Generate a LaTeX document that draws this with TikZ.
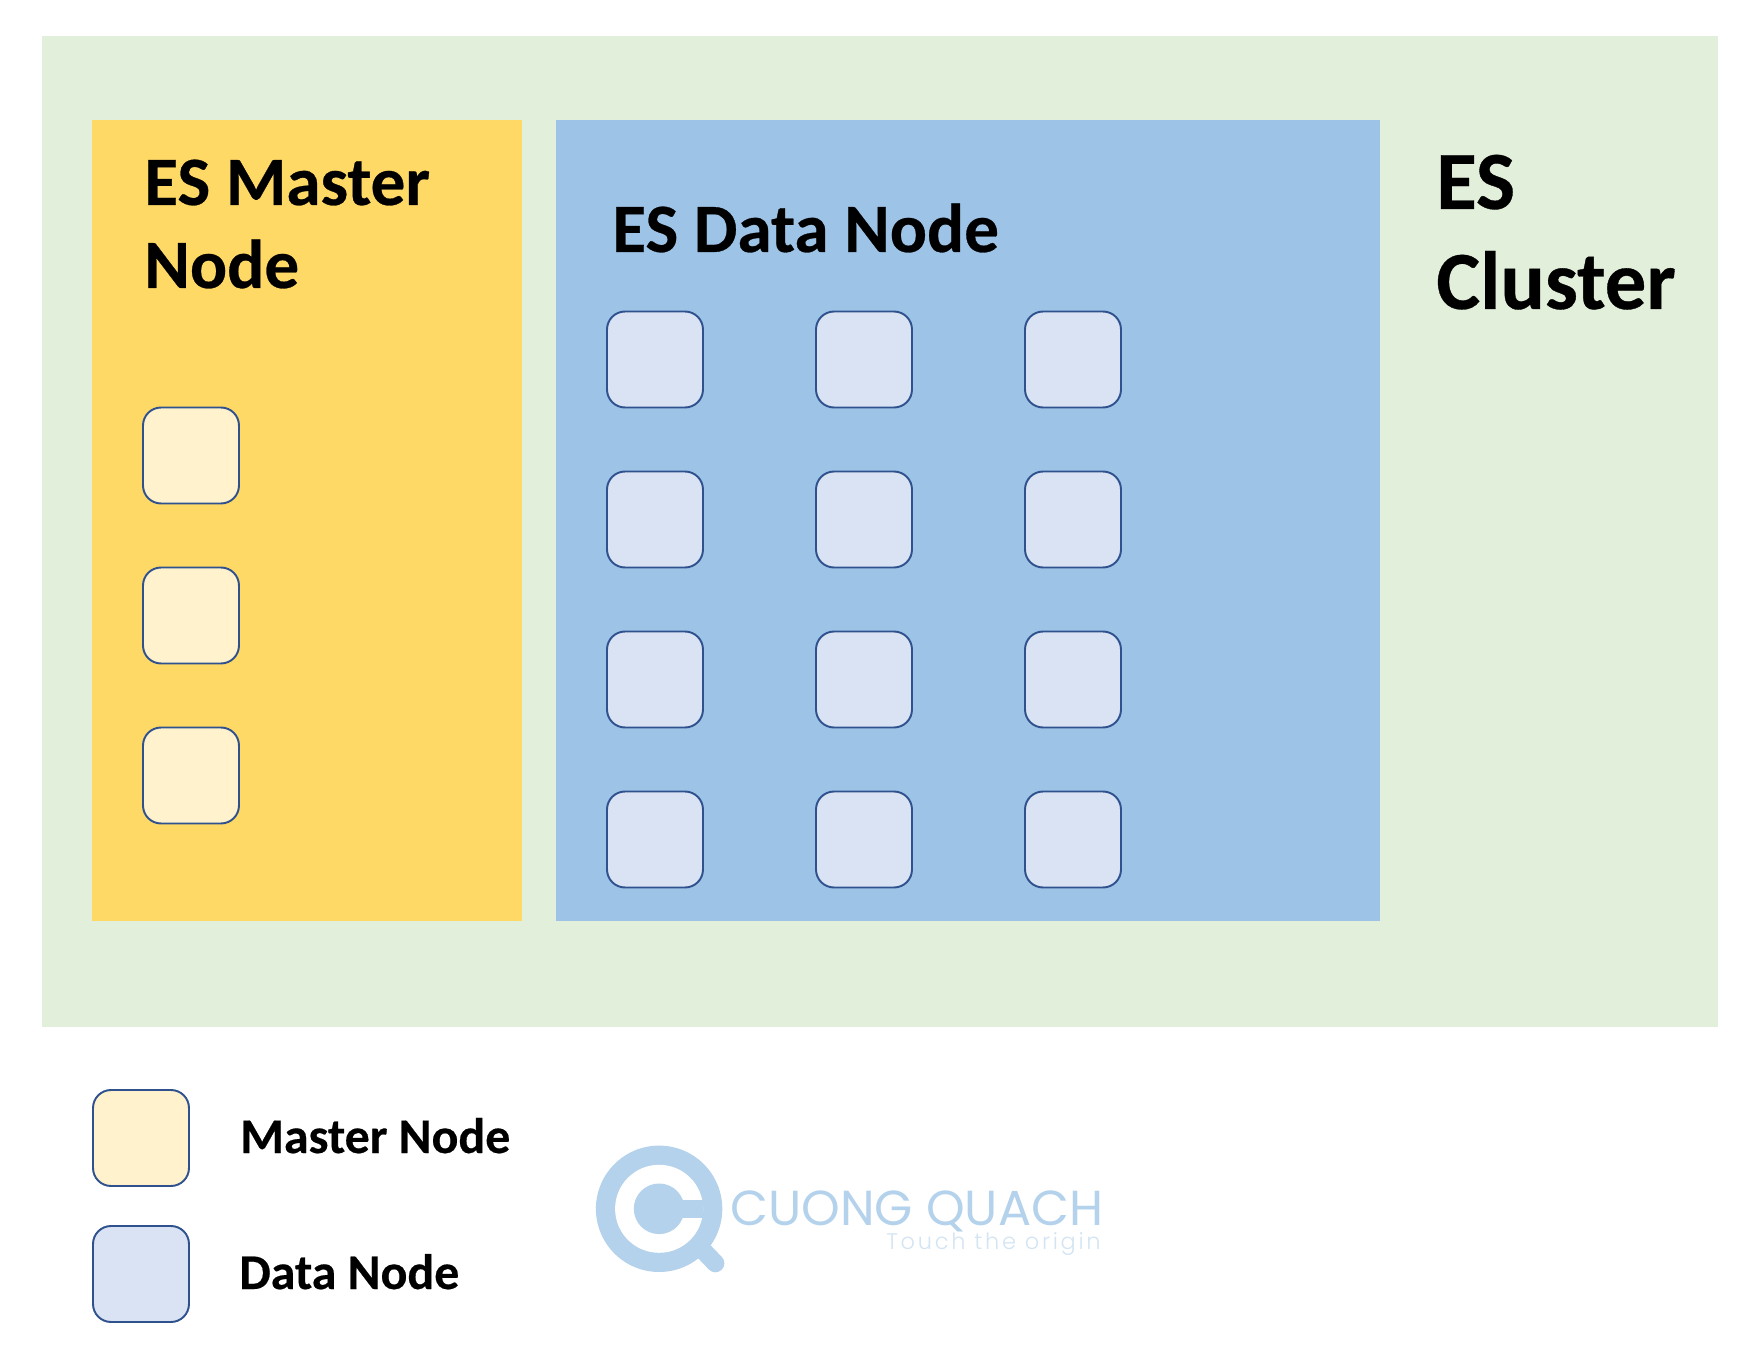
\documentclass[tikz,border=0pt]{standalone}
\usepackage{fontspec}
\setmainfont[BoldFeatures={FakeBold=0.4}]{Carlito}
\newfontfamily\logofont{Poppins}
\newfontfamily\tagfont[LetterSpace=12]{Poppins Light}
\definecolor{clustergreen}{HTML}{E2EFDA}
\definecolor{mastergold}{HTML}{FFD966}
\definecolor{datablue}{HTML}{9DC3E6}
\definecolor{masterpale}{HTML}{FFF2CC}
\definecolor{datapale}{HTML}{DAE3F3}
\definecolor{boxline}{HTML}{2F528F}
\definecolor{logoblue}{HTML}{B4D2EB}
\definecolor{tagblue}{HTML}{D3E4F3}
\tikzset{
  nodebox/.style={draw=boxline, line width=1.1pt, rounded corners=0.36cm, minimum size=1.92cm, inner sep=0pt},
  masterbox/.style={nodebox, fill=masterpale},
  databox/.style={nodebox, fill=datapale},
  panellabel/.style={anchor=base west, inner sep=0pt, font=\fontsize{39.4}{39.4}\selectfont\bfseries},
  clusterlabel/.style={anchor=base west, inner sep=0pt, font=\fontsize{47.1}{47.1}\selectfont\bfseries},
  legendlabel/.style={anchor=base west, inner sep=0pt, font=\fontsize{28.4}{28.4}\selectfont\bfseries}
}
\begin{document}
\begin{tikzpicture}[x=0.02cm, y=-0.02cm]
    \useasboundingbox (0,0) rectangle (1756,1348);

    % ES Cluster
    \fill[clustergreen] (42,36) rectangle (1718,1027);
    \node[clusterlabel] (clusterone) at (1436,209) {ES};
    \node[clusterlabel] (clustertwo) at (1436,309) {Cluster};

    % ES Master Node
    \fill[mastergold] (92,120) rectangle (522,921);
    \node[panellabel] (masterone) at (144,205) {ES Master};
    \node[panellabel] (mastertwo) at (144,288) {Node};
    \foreach \y in {455.5,615.5,775.5}
        \node[masterbox] (master\y) at (191,\y) {};

    % ES Data Node
    \fill[datablue] (556,120) rectangle (1380,921);
    \node[panellabel] (datatitle) at (612,252) {ES Data Node};
    \foreach \x in {655,864,1073}
        \foreach \y in {359.5,519.5,679.5,839.5}
            \node[databox] (data\x\y) at (\x,\y) {};

    % Legend
    \node[masterbox] (legendmaster) at (141,1138) {};
    \node[legendlabel] (legendmastertext) at (240,1153) {Master Node};
    \node[databox] (legenddata) at (141,1274) {};
    \node[legendlabel] (legenddatatext) at (239,1289) {Data Node};

    % Logo
    \draw[logoblue, line width=0.36cm, line cap=round] (704.3,1251.7) -- (715.4,1263.3);
    \fill[logoblue] (659.1,1208.8) circle [radius=63.2];
    \fill[white] (659.1,1208.8) circle [radius=44];
    \fill[logoblue] (659.1,1208.8) circle [radius=25.3];
    \fill[logoblue] (659.1,1199.8) rectangle (703,1218.2);
    \node[anchor=base west, inner sep=0pt, text=logoblue, font=\fontsize{28}{28}\selectfont\logofont] (logoname) at (730,1225) {CUONG QUACH};
    \node[anchor=base east, inner sep=0pt, text=tagblue, font=\fontsize{12.8}{12.8}\selectfont\tagfont] (logotag) at (1101,1249) {Touch the origin};
\end{tikzpicture}
\end{document}
